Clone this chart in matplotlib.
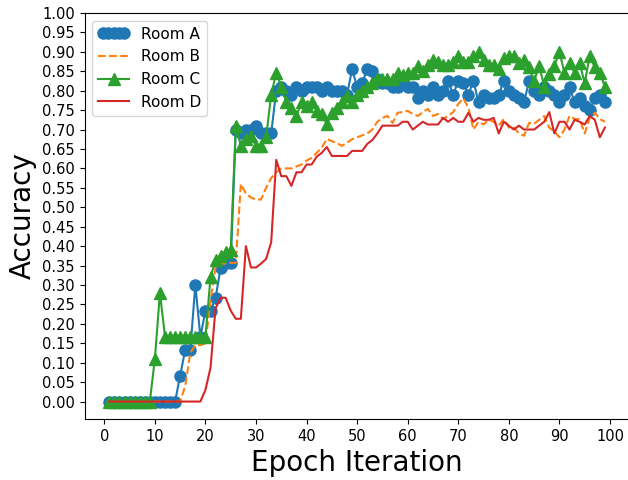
import matplotlib
matplotlib.use("Agg")
import matplotlib.pyplot as plt
from matplotlib.legend_handler import HandlerLine2D
import numpy as np

epochs = list(range(1, 100))

room_a = [0, 0, 0, 0, 0, 0, 0, 0, 0, 0,
          0, 0, 0, 0, 0.067, 0.133, 0.133, 0.30, 0.167, 0.233,
          0.233, 0.267, 0.344, 0.356, 0.356, 0.70, 0.69, 0.70, 0.70, 0.71,
          0.69, 0.69, 0.69, 0.80, 0.81, 0.80, 0.79, 0.81, 0.80, 0.81,
          0.81, 0.81, 0.80, 0.81, 0.80, 0.80, 0.80, 0.79, 0.855, 0.81,
          0.82, 0.855, 0.85, 0.83, 0.82, 0.82, 0.81, 0.81, 0.82, 0.81,
          0.81, 0.78, 0.80, 0.79, 0.81, 0.79, 0.80, 0.825, 0.79, 0.825,
          0.82, 0.79, 0.825, 0.77, 0.79, 0.78, 0.78, 0.79, 0.825, 0.80,
          0.79, 0.78, 0.77, 0.825, 0.80, 0.79, 0.81, 0.80, 0.79, 0.77,
          0.79, 0.81, 0.77, 0.78, 0.76, 0.75, 0.78, 0.79, 0.77]

room_b = [0, 0, 0, 0, 0, 0, 0, 0, 0, 0,
          0, 0, 0, 0, 0, 0.04, 0.125, 0.145, 0.145, 0.15,
          0.26, 0.345, 0.355, 0.355, 0.357, 0.357, 0.56, 0.535, 0.525, 0.52,
          0.52, 0.55, 0.575, 0.59, 0.60, 0.60, 0.60, 0.605, 0.61, 0.62,
          0.627, 0.64, 0.653, 0.676, 0.67, 0.665, 0.658, 0.666, 0.675, 0.68,
          0.685, 0.69, 0.70, 0.72, 0.73, 0.735, 0.717, 0.743, 0.745, 0.748,
          0.74, 0.735, 0.745, 0.753, 0.735, 0.74, 0.727, 0.735, 0.745, 0.766,
          0.78, 0.756, 0.70, 0.72, 0.713, 0.725, 0.72, 0.71, 0.727, 0.705,
          0.705, 0.69, 0.684, 0.717, 0.715, 0.725, 0.735, 0.705, 0.695, 0.68,
          0.70, 0.735, 0.727, 0.727, 0.69, 0.73, 0.743, 0.727, 0.72]

room_c = [0, 0, 0, 0, 0, 0, 0, 0, 0, 0.11,
          0.28, 0.167, 0.167, 0.167, 0.167, 0.167, 0.167, 0.167, 0.167, 0.167,
          0.32, 0.365, 0.375, 0.385, 0.39, 0.71, 0.658, 0.675, 0.684, 0.658,
          0.658, 0.68, 0.79, 0.846, 0.81, 0.77, 0.756, 0.735, 0.77, 0.76,
          0.77, 0.748, 0.74, 0.714, 0.743, 0.756, 0.77, 0.787, 0.77, 0.79,
          0.80, 0.81, 0.82, 0.83, 0.83, 0.83, 0.83, 0.845, 0.84, 0.845,
          0.845, 0.864, 0.85, 0.865, 0.88, 0.875, 0.865, 0.865, 0.875, 0.89,
          0.875, 0.875, 0.89, 0.90, 0.88, 0.865, 0.867, 0.855, 0.885, 0.89,
          0.89, 0.87, 0.88, 0.86, 0.825, 0.864, 0.81, 0.843, 0.864, 0.90,
          0.846, 0.87, 0.846, 0.87, 0.82, 0.89, 0.86, 0.846, 0.81]

room_d = [0, 0, 0, 0, 0, 0, 0, 0, 0, 0,
          0, 0, 0, 0, 0, 0, 0, 0, 0, 0.03,
          0.087, 0.24, 0.267, 0.267, 0.234, 0.213, 0.213, 0.40, 0.345, 0.345,
          0.355, 0.367, 0.41, 0.622, 0.58, 0.58, 0.555, 0.59, 0.59, 0.61,
          0.61, 0.63, 0.64, 0.655, 0.632, 0.632, 0.632, 0.632, 0.645, 0.645,
          0.645, 0.663, 0.673, 0.69, 0.71, 0.71, 0.71, 0.71, 0.72, 0.72,
          0.70, 0.71, 0.72, 0.713, 0.713, 0.713, 0.73, 0.72, 0.73, 0.72,
          0.72, 0.743, 0.72, 0.73, 0.725, 0.725, 0.73, 0.69, 0.72, 0.71,
          0.70, 0.71, 0.70, 0.70, 0.70, 0.71, 0.72, 0.745, 0.69, 0.72,
          0.72, 0.70, 0.725, 0.72, 0.713, 0.735, 0.725, 0.68, 0.705]

labels = ["Room A", "Room B", "Room C", "Room D"]
x_ticks = list(range(0, 101, 10))
y_ticks = [round(v, 2) for v in np.arange(0, 1.0001, 0.05)]

fig = plt.figure(figsize=(6.28, 4.8), dpi=100)
ax = fig.add_axes([0.1347, 0.127, 0.868, 0.846])

la, = ax.plot(epochs, room_a, "-o", color="#1f77b4", lw=1.5, markersize=8, label=labels[0])
ax.plot(epochs, room_b, "--", color="#ff7f0e", lw=1.5, label=labels[1])
ax.plot(epochs, room_c, "-^", color="#2ca02c", lw=1.5, markersize=8, label=labels[2])
ax.plot(epochs, room_d, "-", color="#d62728", lw=1.5, label=labels[3])

ax.set_xticks(x_ticks)
ax.set_yticks(y_ticks)
ax.set_xlim(-3.9, 103.9)
ax.set_ylim(-0.045, 1.0)
ax.tick_params(labelsize=10.5)
ax.set_xlabel("Epoch Iteration", fontsize=20)
ax.set_ylabel("Accuracy", fontsize=20)
ax.legend(loc="upper left", fontsize=11, handler_map={la: HandlerLine2D(numpoints=5)})

fig.savefig("out.png", dpi=100)
